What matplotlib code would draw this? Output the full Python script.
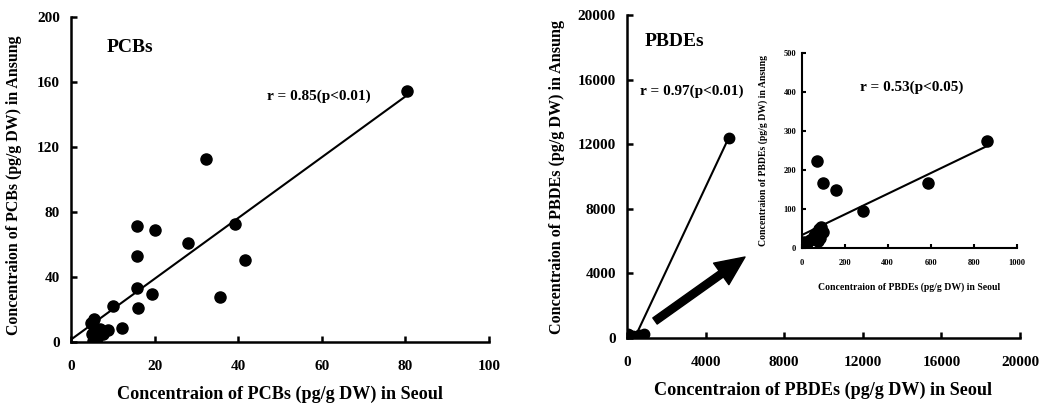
import matplotlib
matplotlib.use('Agg')
import matplotlib.pyplot as plt

plt.rcParams['font.family'] = ['Liberation Serif', 'DejaVu Serif']
plt.rcParams['font.weight'] = 'bold'

# --- PCBs (left panel) ---
pcb_seoul = [80.4, 32.4, 15.7, 20.1, 27.9, 39.2, 41.6, 15.9, 15.9, 19.4, 35.6, 16.1,
             10.1, 12.1, 8.9, 5.6, 5.3, 5.0, 5.2, 6.9, 7.7, 4.8, 6.2]
pcb_ansung = [154.3, 112.8, 71.4, 69.1, 60.9, 72.4, 50.3, 53.1, 33.4, 29.7, 27.7, 21.1,
              22.2, 8.6, 7.2, 14.4, 10.3, 5.0, 0.5, 8.2, 5.0, 12.0, 2.5]
pcb_fit = (1.87, 1.5)          # slope, intercept
pcb_fit_range = (0, 80)

# --- PBDEs (right panel, all samples) ---
pbde_seoul = [5200, 860, 589, 286, 160, 100, 70,
              10, 25, 40, 55, 65, 75, 80, 90, 100, 85]
pbde_ansung = [12400, 274, 166, 95, 150, 167, 223,
               15, 12, 20, 30, 38, 18, 50, 55, 42, 25]
pbde_fit = (2.59, -1008)
pbde_fit_range = (390, 5150)

# inset excludes the outlier
inset_fit = (0.265, 33)
inset_fit_range = (8, 860)

W, H = 1041, 403
fig = plt.figure(figsize=(W / 100, H / 100), dpi=100)


def style(ax, size, lw=1.8, tlen=4, pad=8):
    for s in ['top', 'right']:
        ax.spines[s].set_visible(False)
    for s in ['left', 'bottom']:
        ax.spines[s].set_linewidth(lw)
    ax.tick_params(direction='in', length=tlen, width=lw, labelsize=size, pad=pad)
    for lab in ax.get_xticklabels() + ax.get_yticklabels():
        lab.set_fontweight('bold')


# left panel
ax1 = fig.add_axes([71 / W, 1 - 342 / H, 418 / W, 325 / H])
ax1.plot(pcb_seoul, pcb_ansung, 'o', color='black', ms=8)
x0, x1 = pcb_fit_range
ax1.plot([x0, x1], [pcb_fit[0] * x0 + pcb_fit[1], pcb_fit[0] * x1 + pcb_fit[1]],
         color='black', lw=1.5)
ax1.set_xlim(0, 100)
ax1.set_ylim(0, 200)
ax1.set_xticks(range(0, 101, 20))
ax1.set_yticks(range(0, 201, 40))
style(ax1, 11)
ax1.tick_params(axis='x', pad=13)
ax1.set_xlabel('Concentraion of PCBs (pg/g DW) in Seoul', fontsize=13.1,
               fontweight='bold', labelpad=9)
ax1.set_ylabel('Concentraion of PCBs (pg/g DW) in Ansung', fontsize=11.4,
               fontweight='bold', labelpad=11)
ax1.yaxis.label.set_y(0.483)
ax1.text(8.6, 181, 'PCBs', fontsize=14, fontweight='bold', va='center')
ax1.text(47, 151, 'r = 0.85(p<0.01)', fontsize=11, fontweight='bold', va='center')

# right panel
ax2 = fig.add_axes([627 / W, 1 - 338 / H, 393 / W, 323 / H])
ax2.plot(pbde_seoul, pbde_ansung, 'o', color='black', ms=7.5)
x0, x1 = pbde_fit_range
ax2.plot([x0, x1], [pbde_fit[0] * x0 + pbde_fit[1], pbde_fit[0] * x1 + pbde_fit[1]],
         color='black', lw=1.5)
ax2.set_xlim(0, 20000)
ax2.set_ylim(0, 20000)
ax2.set_xticks(range(0, 20001, 4000))
ax2.set_yticks(range(0, 20001, 4000))
style(ax2, 11)
ax2.tick_params(axis='x', pad=13)
ax2.set_xlabel('Concentraion of PBDEs (pg/g DW) in Seoul', fontsize=13.1,
               fontweight='bold', labelpad=9)
ax2.set_ylabel('Concentraion of PBDEs (pg/g DW) in Ansung', fontsize=11.6,
               fontweight='bold', labelpad=9)
ax2.text(916, 18390, 'PBDEs', fontsize=14, fontweight='bold', va='center')
ax2.text(662, 15294, 'r = 0.97(p<0.01)', fontsize=11, fontweight='bold', va='center')
ax2.annotate('', xy=(6005, 5015), xytext=(1425, 1053),
             arrowprops=dict(arrowstyle='simple,head_length=1.05,head_width=0.95,tail_width=0.27',
                             mutation_scale=20, color='black', shrinkA=0, shrinkB=0))

# inset
ax3 = fig.add_axes([801.7 / W, 1 - 248 / H, 215 / W, 195 / H])
ins = [(s, a) for s, a in zip(pbde_seoul, pbde_ansung) if s < 1000]
ax3.plot([p[0] for p in ins], [p[1] for p in ins], 'o', color='black', ms=8)
x0, x1 = inset_fit_range
ax3.plot([x0, x1], [inset_fit[0] * x0 + inset_fit[1], inset_fit[0] * x1 + inset_fit[1]],
         color='black', lw=1.5)
ax3.set_xlim(0, 1000)
ax3.set_ylim(0, 500)
ax3.set_xticks(range(0, 1001, 200))
ax3.set_yticks(range(0, 501, 100))
style(ax3, 6, lw=1.5, tlen=3, pad=4)
ax3.tick_params(axis='x', pad=8)
ax3.set_xlabel('Concentraion of PBDEs (pg/g DW) in Seoul', fontsize=7,
               fontweight='bold', labelpad=11)
ax3.set_ylabel('Concentraion of PBDEs (pg/g DW) in Ansung', fontsize=7,
               fontweight='bold', labelpad=11)
ax3.text(271, 413, 'r = 0.53(p<0.05)', fontsize=11, fontweight='bold', va='center')

fig.savefig('out.png', dpi=100)
